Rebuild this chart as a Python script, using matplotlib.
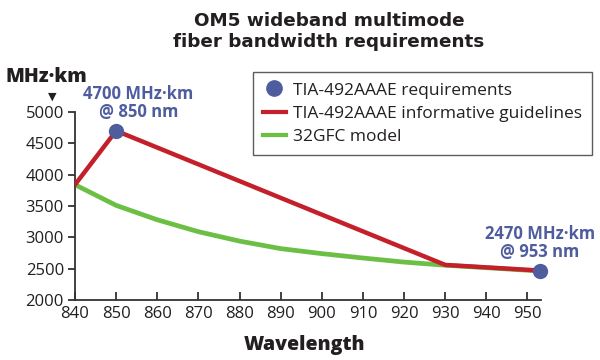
import matplotlib
matplotlib.use("Agg")
import matplotlib.pyplot as plt
from matplotlib.lines import Line2D

plt.rcParams['font.family'] = ['Open Sans', 'DejaVu Sans']

# Data
req_x = [850, 953]
req_y = [4700, 2470]
guide_x = [840, 850, 930, 953]
guide_y = [3840, 4700, 2560, 2470]
model_x = [840, 850, 860, 870, 880, 890, 900, 910, 920, 930, 940, 950, 953]
model_y = [3840, 3510, 3280, 3090, 2940, 2820, 2740, 2670, 2605, 2555, 2515, 2475, 2460]
xticks = [840, 850, 860, 870, 880, 890, 900, 910, 920, 930, 940, 950]
yticks = [2000, 2500, 3000, 3500, 4000, 4500, 5000]

RED = '#c4202b'
GREEN = '#6cbf45'
BLUE = '#4f5d9f'
TXT = '#231f20'

fig = plt.figure(figsize=(6, 3.6), dpi=100)
ax = fig.add_axes([75/600, 1-300/360, (541-75)/600, (300-112)/360])

ax.plot(model_x, model_y, color=GREEN, lw=3.4, solid_capstyle='butt', solid_joinstyle='round', zorder=2)
ax.plot(guide_x, guide_y, color=RED, lw=3.2, solid_joinstyle='miter', zorder=3)
ax.plot(req_x, req_y, 'o', color=BLUE, ms=10, zorder=4, clip_on=False, lw=0)

ax.set_xlim(840, 953.3)
ax.set_ylim(2000, 5000)
ax.set_xticks(xticks)
ax.set_yticks(yticks)
ax.tick_params(axis='x', direction='in', length=6, width=1.2, labelsize=12, colors=TXT, pad=4)
ax.tick_params(axis='y', direction='out', length=5, width=1.2, labelsize=12, colors=TXT, pad=3)
for s in ['top', 'right']:
    ax.spines[s].set_visible(False)
for s in ['left', 'bottom']:
    ax.spines[s].set_linewidth(1.3)
    ax.spines[s].set_color('#333333')

ax.annotate('4700 MHz·km\n@ 850 nm', xy=(850, 4700), xytext=(16, 7), textcoords='offset points',
            ha='center', va='bottom', color=BLUE, fontsize=12, fontweight='bold', linespacing=1.0)
ax.annotate('2470 MHz·km\n@ 953 nm', xy=(953, 2470), xytext=(0, 7), textcoords='offset points',
            ha='center', va='bottom', color=BLUE, fontsize=12, fontweight='bold', linespacing=1.0,
            annotation_clip=False)

fig.text(329/600, 1-12/360, 'OM5 wideband multimode\nfiber bandwidth requirements', ha='center', va='top',
         fontsize=13.2, fontweight='bold', color=TXT, linespacing=1.2, family='DejaVu Sans')
fig.text(46/600, 1-77/360, 'MHz·km', ha='center', va='center', fontsize=14, fontweight='heavy', color=TXT)
fig.text(52/600, 1-97/360, '▼', ha='center', va='center', fontsize=8, color=TXT, family='DejaVu Sans')
fig.text(304/600, 1-345/360, 'Wavelength', ha='center', va='center', fontsize=14, fontweight='heavy', color=TXT)

handles = [Line2D([], [], marker='o', ls='none', color=BLUE, ms=11),
           Line2D([], [], color=RED, lw=3),
           Line2D([], [], color=GREEN, lw=3)]
labels = ['TIA-492AAAE requirements', 'TIA-492AAAE informative guidelines', '32GFC model']
leg = fig.legend(handles, labels, loc='upper right', bbox_to_anchor=(592/600, 1-72/360),
                 bbox_transform=fig.transFigure, frameon=True, fancybox=False, fontsize=12.5,
                 handlelength=1.3, handletextpad=0.4, labelspacing=0.4, borderpad=0.6,
                 borderaxespad=0, labelcolor=TXT)
leg.get_frame().set_edgecolor('#333333')
leg.get_frame().set_linewidth(1.0)

fig.savefig('out.png', dpi=100)
